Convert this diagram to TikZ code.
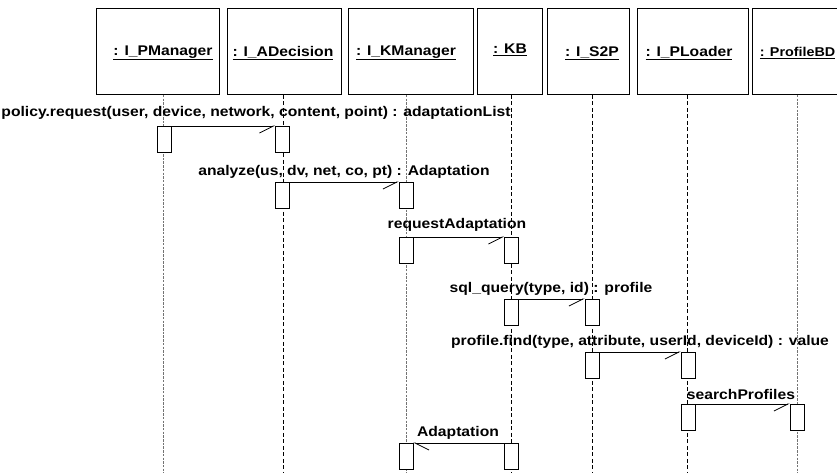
\documentclass[tikz,border=0pt]{standalone}
\usepackage{fontspec}
\setmainfont{Liberation Sans}
\newfontfamily\lblfont[FakeStretch=1.12]{Liberation Sans}
\usetikzlibrary{arrows.meta}
\begin{document}
\begin{tikzpicture}[x=1pt,y=-1pt,
 head/.style={draw, line width=0.9pt, minimum height=86pt, inner sep=0pt, anchor=north west},
 hlbl/.style={font=\lblfont\fontsize{14}{16}\selectfont\bfseries, inner sep=0pt},
 act/.style={draw, fill=white, line width=0.8pt, minimum width=14pt, minimum height=26pt, inner sep=0pt, anchor=north},
 lifeblk/.style={line width=0.8pt, dash pattern=on 4pt off 2.5pt},
 lifegry/.style={line width=0.9pt, draw=black!55, dash pattern=on 2.5pt off 1.2pt},
 msg/.style={line width=0.8pt, -{Straight Barb[right,length=14pt,width=14pt]}},
 rmsg/.style={line width=0.8pt, -{Straight Barb[left,length=14pt,width=14pt]}},
 lbl/.style={font=\lblfont\fontsize{14}{16}\selectfont\bfseries, inner sep=0pt}]
\useasboundingbox (0,0) rectangle (837,473);
\clip (0,0) rectangle (837,473);
% heads
\node[head, minimum width=123pt] (hPM) at (96,8) {};
\node[head, minimum width=114pt] (hAD) at (227,8) {};
\node[head, minimum width=125pt] (hKM) at (348,8) {};
\node[head, minimum width=65pt] (hKB) at (477,8) {};
\node[head, minimum width=82pt] (hS2) at (547,8) {};
\node[head, minimum width=111pt] (hPL) at (637,8) {};
\node[head, minimum width=95pt] (hBD) at (752,8) {};
\node[hlbl] (tPM) at (163,53) {\underline{: I\_PManager}};
\node[hlbl] (tAD) at (283,53) {\underline{: I\_ADecision}};
\node[hlbl] (tKM) at (406,53) {\underline{: I\_KManager}};
\node[hlbl] (tKB) at (510,50) {\underline{: KB}};
\node[hlbl] (tS2) at (592,53) {\underline{: I\_S2P}};
\node[hlbl] (tPL) at (689,53) {\underline{: I\_PLoader}};
\node[hlbl, font=\lblfont\fontsize{12.8}{15}\selectfont\bfseries, anchor=east] (tBD) at (835.5,53) {\underline{: ProfileBD}};
% lifelines
\coordinate (ePM) at (163,473);
\coordinate (eAD) at (283,473);
\coordinate (eKM) at (406,473);
\coordinate (eKB) at (511,473);
\coordinate (eS2) at (592,473);
\coordinate (ePL) at (687,473);
\coordinate (eBD) at (797,473);
\draw[lifegry] (hPM.south -| ePM) -- (ePM);
\draw[lifeblk] (hAD.south -| eAD) -- (eAD);
\draw[lifegry] (hKM.south -| eKM) -- (eKM);
\draw[lifeblk] (hKB.south -| eKB) -- (eKB);
\draw[lifeblk] (hS2.south -| eS2) -- (eS2);
\draw[lifeblk] (hPL.south -| ePL) -- (ePL);
\draw[lifegry] (hBD.south -| eBD) -- (eBD);
% activations
\node[act] (a1s) at (164,126) {};
\node[act] (a1t) at (282.5,126) {};
\node[act] (a2s) at (282.5,182) {};
\node[act] (a2t) at (406,182) {};
\node[act] (a3s) at (406,237) {};
\node[act] (a3t) at (511.5,237) {};
\node[act] (a4s) at (511.5,299) {};
\node[act] (a4t) at (592,299) {};
\node[act] (a5s) at (592,352) {};
\node[act] (a5t) at (688,352) {};
\node[act] (a6s) at (688,404) {};
\node[act] (a6t) at (797,404) {};
\node[act] (a7t) at (406,443) {};
\node[act] (a7s) at (511.5,443) {};
% messages
\draw[msg] (a1s.north east) -- (a1t.north west);
\draw[msg] (a2s.north east) -- (a2t.north west);
\draw[msg] (a3s.north east) -- (a3t.north west);
\draw[msg] (a4s.north east) -- (a4t.north west);
\draw[msg] (a5s.north east) -- (a5t.north west);
\draw[msg] (a6s.north east) -- (a6t.north west);
\draw[rmsg] (a7s.north west) -- (a7t.north east);
% labels
\node[lbl] (m1) at (256,113) {policy.request(user, device, network, content, point) : adaptationList};
\node[lbl] (m2) at (344,172) {analyze(us, dv, net, co, pt) : Adaptation};
\node[lbl] (m3) at (457,225) {requestAdaptation};
\node[lbl] (m4) at (551,289) {sql\_query(type, id) : profile};
\node[lbl] (m5) at (640,342) {profile.find(type, attribute, userId, deviceId) : value};
\node[lbl] (m6) at (741,394) {searchProfiles};
\node[lbl] (m7) at (458,433) {Adaptation};
\end{tikzpicture}
\end{document}
